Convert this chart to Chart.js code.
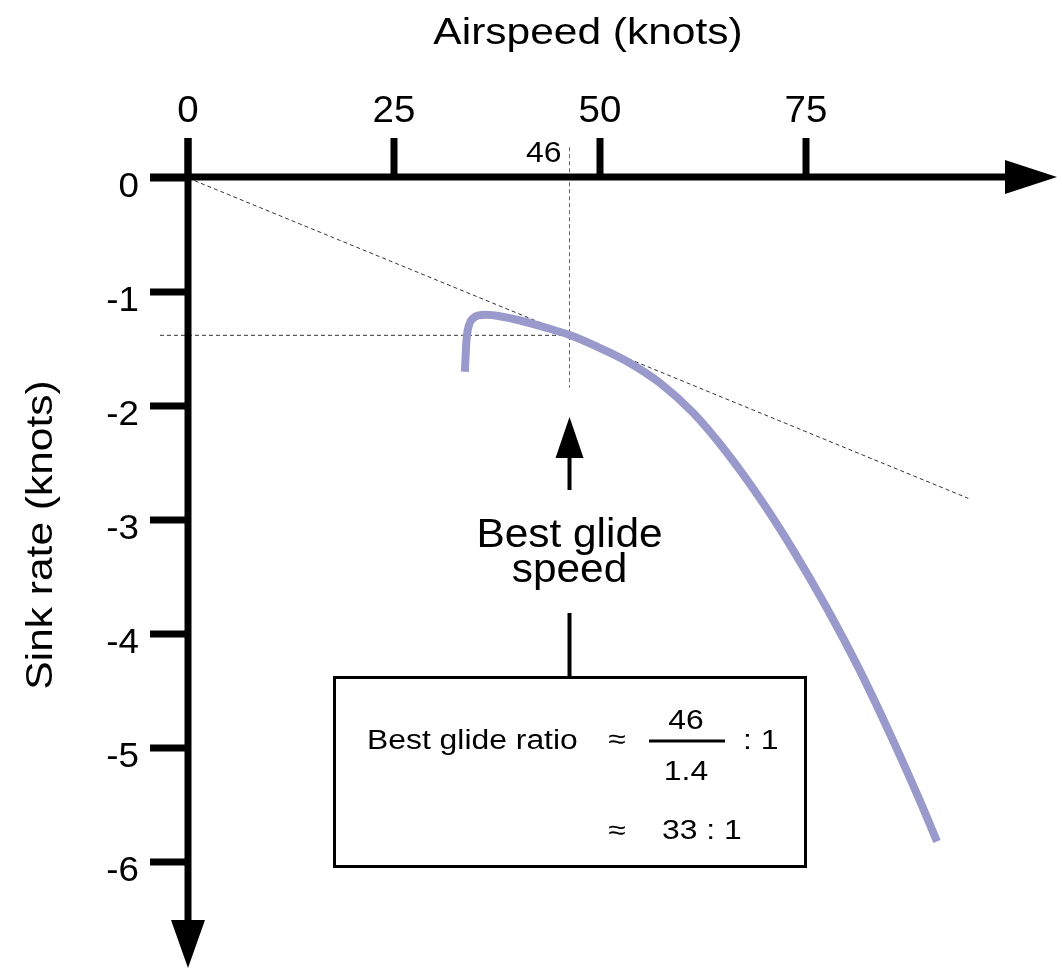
<!DOCTYPE html>
<html>
<head>
<meta charset="utf-8">
<script src="https://cdn.jsdelivr.net/npm/chart.js@4.4.1/dist/chart.umd.min.js"></script>
<style>
  html, body { margin: 0; padding: 0; background: #ffffff; }
  #wrap { width: 1062px; height: 968px; position: relative; }
</style>
</head>
<body>
<div id="wrap"><canvas id="c"></canvas></div>
<script>
// ---- data ----
const xTicks = [0, 25, 50, 75];
const yTicks = [0, -1, -2, -3, -4, -5, -6];
const xTitle = 'Airspeed (knots)';
const yTitle = 'Sink rate (knots)';

const polarSpeed = [33.6, 33.8, 34.1, 34.6, 35.3, 36.2, 38.0, 40.3, 43.3, 46.4, 50.4, 53.3, 57.3, 61.3, 65.4, 69.4, 73.4, 77.5, 81.6, 85.6, 88.8, 90.9];
const polarSink  = [-1.70, -1.42, -1.29, -1.23, -1.205, -1.20, -1.215, -1.25, -1.31, -1.38, -1.505, -1.61, -1.80, -2.06, -2.41, -2.81, -3.26, -3.77, -4.33, -4.94, -5.46, -5.82];

const tangentSpeed = [0, 94.7];
const tangentSink  = [0, -2.81];

const bestGlideSpeed = 46.3;
const bestGlideSink = -1.38;
const bestGlideLabel = '46';
const sinkGuideSpeed = [-3.4, 46.3];
const speedGuideSink = [0.27, -1.84];

const calloutLines = ['Best glide', 'speed'];
const ratioLabel = 'Best glide ratio';
const ratioNum = '46';
const ratioDen = '1.4';
const ratioResult = '33 : 1';

// ---- helpers ----
const FONT = '"Liberation Sans", Arial, Helvetica, sans-serif';
function txt(ctx, s, x, y, size, align, sx) {
  ctx.save();
  ctx.font = size + 'px ' + FONT;
  ctx.fillStyle = '#000';
  ctx.textAlign = align;
  ctx.textBaseline = 'alphabetic';
  ctx.translate(x, y);
  ctx.scale(sx, 1);
  ctx.fillText(s, 0, 0);
  ctx.restore();
}
function zip(a, b) { return a.map((v, i) => ({ x: v, y: b[i] })); }

const axesPlugin = {
  id: 'axesPlugin',
  afterDraw(chart) {
    const ctx = chart.ctx;
    const xs = chart.scales.x, ys = chart.scales.y;
    const x0 = xs.getPixelForValue(0);
    const y0 = ys.getPixelForValue(0) - 1;
    ctx.save();
    ctx.strokeStyle = '#000';
    ctx.fillStyle = '#000';
    ctx.lineCap = 'butt';
    ctx.lineWidth = 7;
    // x axis
    ctx.beginPath(); ctx.moveTo(x0 - 38, y0); ctx.lineTo(1006, y0); ctx.stroke();
    ctx.beginPath(); ctx.moveTo(1005, y0 - 17); ctx.lineTo(1057, y0); ctx.lineTo(1005, y0 + 17); ctx.closePath(); ctx.fill();
    // y axis
    ctx.beginPath(); ctx.moveTo(x0, y0 - 39); ctx.lineTo(x0, 921); ctx.stroke();
    ctx.beginPath(); ctx.moveTo(x0 - 17, 920); ctx.lineTo(x0, 968); ctx.lineTo(x0 + 17, 920); ctx.closePath(); ctx.fill();
    // x ticks
    xTicks.forEach(v => {
      const px = xs.getPixelForValue(v);
      ctx.beginPath(); ctx.moveTo(px, y0 - 39); ctx.lineTo(px, y0); ctx.stroke();
      txt(ctx, String(v), px, 122, 37, 'center', 1.04);
    });
    // y ticks
    yTicks.forEach(v => {
      const py = ys.getPixelForValue(v);
      ctx.beginPath(); ctx.moveTo(x0 - 38, py); ctx.lineTo(x0, py); ctx.stroke();
      txt(ctx, String(v), 139, py + 19, 35, 'right', 1.05);
    });
    // axis titles
    txt(ctx, xTitle, 588, 44, 36, 'center', 1.18);
    ctx.save();
    ctx.translate(52, 535);
    ctx.rotate(-Math.PI / 2);
    txt(ctx, yTitle, 0, 0, 36, 'center', 1.18);
    ctx.restore();

    // best glide speed label
    const bx = xs.getPixelForValue(bestGlideSpeed);
    txt(ctx, bestGlideLabel, bx - 8, 162, 29, 'right', 1.1);

    // callout arrow
    ctx.fillStyle = '#000';
    ctx.beginPath(); ctx.moveTo(bx, 417); ctx.lineTo(bx + 14, 458); ctx.lineTo(bx - 14, 458); ctx.closePath(); ctx.fill();
    ctx.lineWidth = 4;
    ctx.beginPath(); ctx.moveTo(bx, 456); ctx.lineTo(bx, 490); ctx.stroke();
    txt(ctx, calloutLines[0], bx, 547, 40, 'center', 1.06);
    txt(ctx, calloutLines[1], bx, 582, 40, 'center', 1.06);
    ctx.beginPath(); ctx.moveTo(bx, 613); ctx.lineTo(bx, 678); ctx.stroke();

    // box
    ctx.lineWidth = 3;
    ctx.strokeRect(334.5, 677.5, 471, 189);
    txt(ctx, ratioLabel, 367, 749, 27, 'left', 1.18);
    txt(ctx, '\u2248', 617, 748, 27, 'center', 1.18);
    txt(ctx, ratioNum, 686, 729, 27, 'center', 1.18);
    ctx.lineWidth = 3;
    ctx.beginPath(); ctx.moveTo(649, 741); ctx.lineTo(725, 741); ctx.stroke();
    txt(ctx, ratioDen, 686, 780, 27, 'center', 1.18);
    txt(ctx, ': 1', 743, 749, 27, 'left', 1.18);
    txt(ctx, '\u2248', 617, 839, 27, 'center', 1.18);
    txt(ctx, ratioResult, 662, 839, 27, 'left', 1.18);
    ctx.restore();
  }
};

const dashStyle = { borderColor: '#333', borderWidth: 1, borderDash: [4, 3], pointRadius: 0, showLine: true, clip: false, tension: 0 };

new Chart(document.getElementById('c'), {
  type: 'scatter',
  data: {
    datasets: [
      {
        data: zip(polarSpeed, polarSink),
        borderColor: '#9999cc',
        borderWidth: 8,
        pointRadius: 0,
        showLine: true,
        clip: false,
        cubicInterpolationMode: 'monotone',
        borderJoinStyle: 'round',
        borderCapStyle: 'butt'
      },
      Object.assign({ data: zip(tangentSpeed, tangentSink) }, dashStyle),
      Object.assign({ data: zip(sinkGuideSpeed, [bestGlideSink, bestGlideSink]) }, dashStyle),
      Object.assign({ data: zip([bestGlideSpeed, bestGlideSpeed], speedGuideSink) }, dashStyle, { borderColor: '#666' })
    ]
  },
  options: {
    responsive: true,
    maintainAspectRatio: false,
    animation: false,
    events: [],
    layout: { padding: { left: 188, right: 50, top: 178, bottom: 106 } },
    plugins: { legend: { display: false }, tooltip: { enabled: false }, title: { display: false } },
    scales: {
      x: { type: 'linear', min: 0, max: 100, display: false },
      y: { type: 'linear', min: -6, max: 0, display: false }
    }
  },
  plugins: [axesPlugin]
});
</script>
</body>
</html>
